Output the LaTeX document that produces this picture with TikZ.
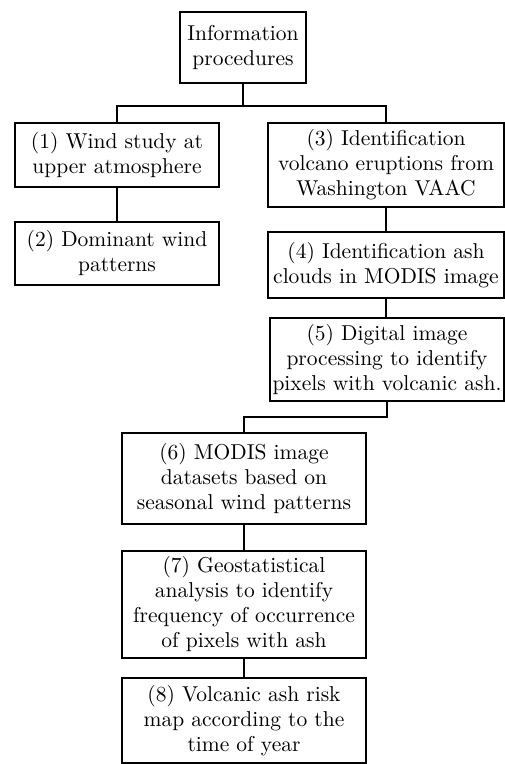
\documentclass[tikz,border=0pt]{standalone}
\usepackage{fontspec}
\newfontfamily\boxfont{lmroman10-regular.otf}
\begin{document}
\begin{tikzpicture}[x=1pt,y=-1pt,
    box/.style={draw,line width=1.5pt,align=center,inner sep=0pt,font=\boxfont\fontsize{21.5}{25}\selectfont},
    link/.style={line width=1.5pt}]
    \useasboundingbox (0,0) rectangle (505,764);
    \node[box,minimum width=126,minimum height=71] (info) at (243,47.5) {Information\\procedures};
    \node[box,minimum width=204,minimum height=64] (wind) at (117,155) {(1) Wind study at\\upper atmosphere};
    \node[box,minimum width=204,minimum height=63] (dominant) at (117,253.5) {(2) Dominant wind\\patterns};
    \node[box,minimum width=236,minimum height=84] (eruptions) at (386,165) {(3) Identification\\volcano eruptions from\\Washington VAAC};
    \node[box,minimum width=236,minimum height=66] (ashclouds) at (386,265) {(4) Identification ash\\clouds in MODIS image};
    \node[box,minimum width=234,minimum height=83] (processing) at (387,359.5) {(5) Digital image\\processing to identify\\pixels with volcanic ash.};
    \node[box,minimum width=244,minimum height=91] (datasets) at (244,478.5) {(6) MODIS image\\datasets based on\\seasonal wind patterns};
    \node[box,minimum width=244,minimum height=107] (geostat) at (244,604.5) {(7) Geostatistical\\analysis to identify\\frequency of occurrence\\of pixels with ash};
    \node[box,minimum width=244,minimum height=85] (riskmap) at (244,720.5) {(8) Volcanic ash risk\\map according to the\\time of year};
    \draw[link] (info.south) -- ++(0,22) -| (wind.north);
    \draw[link] (info.south) -- ++(0,22) -| (eruptions.north);
    \draw[link] (wind) -- (dominant);
    \draw[link] (eruptions) -- (ashclouds);
    \draw[link] (ashclouds.south) -- (ashclouds.south |- processing.north);
    \draw[link] (processing.south) -- ++(0,15) -| (datasets.north);
    \draw[link] (datasets) -- (geostat);
    \draw[link] (geostat) -- (riskmap);
\end{tikzpicture}
\end{document}
